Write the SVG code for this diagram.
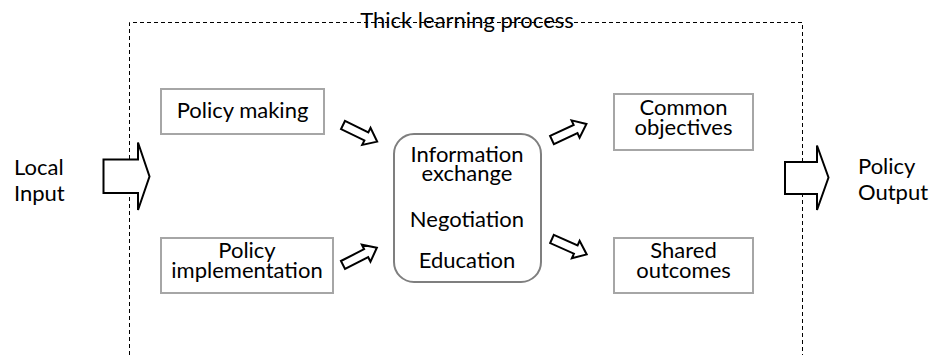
<svg xmlns="http://www.w3.org/2000/svg" width="932" height="355" viewBox="0 0 932 355">
<style>
text{font-family:Lato,"Liberation Sans",sans-serif;fill:#000;}
.lbl{font-size:22px;}
.box{fill:#fff;stroke:#a6a6a6;stroke-width:2;}
.frame{fill:none;stroke:#000;stroke-width:1;stroke-dasharray:4,3;}
.big{fill:#fff;stroke:#000;stroke-width:2;stroke-linejoin:miter;}
.small{fill:#fff;stroke:#000;stroke-width:2;stroke-linejoin:miter;}
</style>
<defs>
<path id="sa" d="M0,-4.5 L26,-4.5 L26,-9.5 L38,0 L26,9.5 L26,4.5 L0,4.5 Z"/>
</defs>
<g id="frame">
<path class="frame" d="M129.5,355 L129.5,22.5 L802.5,22.5 L802.5,355"/>
<text x="467" y="28" text-anchor="middle" style="font-size:22px">Thick learning process</text>
</g>
<g id="local-input">
<text class="lbl" x="14" y="175">Local</text>
<text class="lbl" x="14" y="201">Input</text>
</g>
<g id="policy-output">
<text class="lbl" x="858" y="174">Policy</text>
<text class="lbl" x="858" y="200">Output</text>
</g>
<g id="policy-making">
<rect class="box" x="161" y="89" width="163" height="45"/>
<text class="lbl" x="242.5" y="118" text-anchor="middle">Policy making</text>
</g>
<g id="policy-implementation">
<rect class="box" x="161" y="238" width="172" height="55"/>
<text class="lbl" x="247" y="258" text-anchor="middle">Policy</text>
<text class="lbl" x="247" y="278" text-anchor="middle">implementation</text>
</g>
<g id="center">
<rect x="394" y="134" width="147" height="148" rx="20" ry="20" style="fill:#fff;stroke:#7f7f7f;stroke-width:2"/>
<text class="lbl" x="467" y="162" text-anchor="middle">Information</text>
<text class="lbl" x="467" y="181" text-anchor="middle">exchange</text>
<text class="lbl" x="467" y="227" text-anchor="middle">Negotiation</text>
<text class="lbl" x="467" y="268" text-anchor="middle">Education</text>
</g>
<g id="common-objectives">
<rect class="box" x="614" y="94" width="139" height="56"/>
<text class="lbl" x="683.5" y="115" text-anchor="middle">Common</text>
<text class="lbl" x="683.5" y="135" text-anchor="middle">objectives</text>
</g>
<g id="shared-outcomes">
<rect class="box" x="614" y="238" width="139" height="55"/>
<text class="lbl" x="683.5" y="258" text-anchor="middle">Shared</text>
<text class="lbl" x="683.5" y="278" text-anchor="middle">outcomes</text>
</g>
<g id="connectors">
<path class="big" d="M103.5,159.5 L138,159.5 L138,142.5 L149.5,176.5 L138,210 L138,193 L103.5,193 Z"/>
<path class="big" d="M785,162 L817,162 L817,145.5 L828.5,177.5 L817,210 L817,194 L785,194 Z"/>
<use href="#sa" class="small" transform="translate(343,125) rotate(26)"/>
<use href="#sa" class="small" transform="translate(343,265) rotate(-27)"/>
<use href="#sa" class="small" transform="translate(552,140) rotate(-25)"/>
<use href="#sa" class="small" transform="translate(552,239) rotate(24)"/>
</g>
</svg>
